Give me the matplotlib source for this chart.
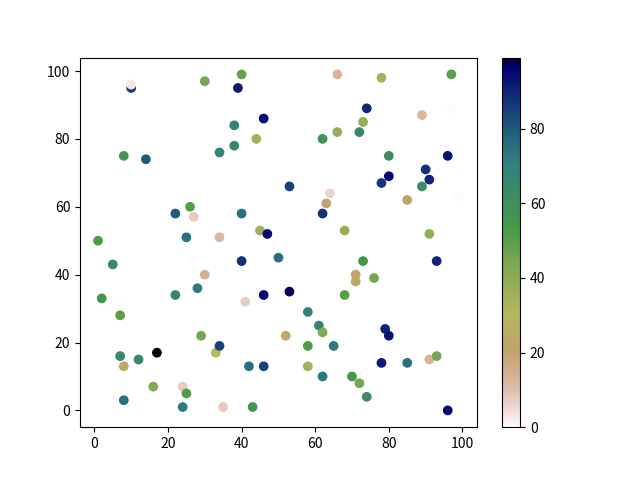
import matplotlib
matplotlib.use('Agg')
import matplotlib.pyplot as plt

plt.rcParams['font.family'] = ['Noto Sans CJK SC', 'DejaVu Sans']

# points: x, y and colour value
x = [1, 2, 5, 7, 7, 8, 8, 8, 10, 12, 14, 16, 17, 22, 22, 24, 24, 25, 25, 26,
     27, 28, 29, 30, 30, 33, 34, 34, 34, 35, 38, 38, 39, 40, 40, 40, 41, 42, 43, 44,
     45, 46, 46, 46, 47, 50, 52, 53, 53, 58, 58, 58, 61, 62, 62, 62, 62, 63, 64, 65,
     66, 66, 68, 68, 70, 71, 71, 72, 72, 73, 73, 74, 74, 76, 78, 78, 79, 80, 80, 80,
     78, 85, 85, 89, 89, 90, 91, 91, 91, 93, 93, 96, 96, 97, 97, 99, 6, 27, 10]
y = [50, 33, 43, 28, 16, 13, 75, 3, 95, 15, 74, 7, 17, 58, 34, 7, 1, 5, 51, 60,
     57, 36, 22, 97, 40, 17, 76, 51, 19, 1, 84, 78, 95, 99, 58, 44, 32, 13, 1, 80,
     53, 86, 34, 13, 52, 45, 22, 66, 35, 29, 19, 13, 25, 23, 10, 58, 80, 61, 64, 19,
     99, 82, 53, 34, 10, 40, 38, 8, 82, 85, 44, 89, 4, 39, 98, 67, 24, 69, 75, 22,
     14, 62, 14, 87, 66, 71, 68, 52, 15, 16, 44, 75, 0, 99, 89, 63, 32, 44, 96]
c = [52, 55, 65, 50, 65, 25, 55, 75, 85, 65, 80, 42, 99, 80, 68, 8, 72, 52, 75, 50,
     8, 72, 45, 45, 15, 30, 68, 12, 85, 8, 68, 67, 92, 48, 75, 88, 7, 75, 57, 35,
     35, 95, 95, 85, 95, 75, 20, 85, 97, 68, 52, 35, 68, 42, 73, 88, 58, 20, 6, 73,
     13, 38, 38, 50, 55, 22, 22, 45, 67, 38, 55, 90, 63, 45, 35, 87, 90, 95, 62, 93,
     92, 22, 75, 12, 63, 88, 90, 38, 13, 45, 90, 93, 95, 50, 0, 0, 0, 0, 3]

fig, ax = plt.subplots(figsize=(6.4, 4.8), dpi=100)
sc = ax.scatter(x, y, c=c, cmap='gist_earth_r', vmin=0, vmax=99)
fig.colorbar(sc, ax=ax)

fig.savefig('out.png')
